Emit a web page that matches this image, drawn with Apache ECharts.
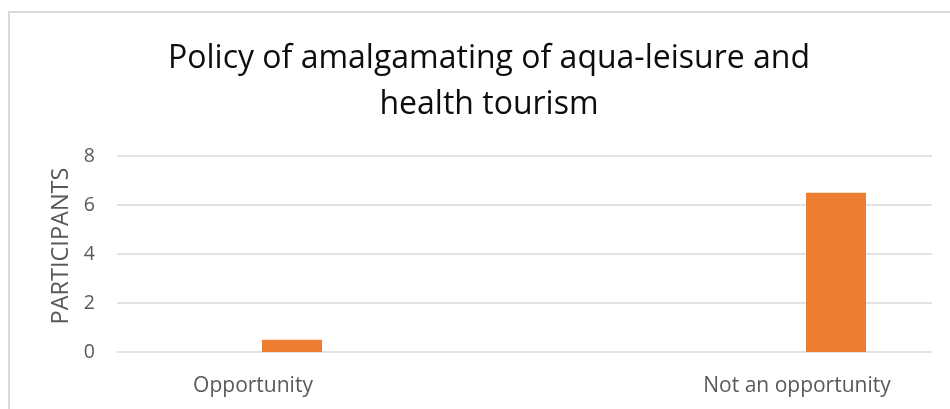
<!DOCTYPE html>
<html>
<head>
<meta charset="utf-8">
<script src="https://cdn.jsdelivr.net/npm/echarts@6/dist/echarts.min.js"></script>
<style>
  html, body { margin: 0; padding: 0; background: #fff; }
  #chart { width: 950px; height: 409px; }
</style>
</head>
<body>
<div id="chart"></div>
<script>
// Survey answers: how many participants chose each response
const categories = ['Opportunity', 'Not an opportunity'];
const participants = [0.5, 6.5];
const yTicks = { min: 0, max: 8, interval: 2 };
const titleText = 'Policy of amalgamating of aqua-leisure and\nhealth tourism';
const yAxisTitle = 'PARTICIPANTS';

const textGrey = '#595959';
const gridGrey = '#d9d9d9';
const barOrange = '#ED7D31';
const font = 'Open Sans';

const chart = echarts.init(document.getElementById('chart'), null, { renderer: 'canvas' });

// Hidden value axis shared by the bar and label grids
const hiddenY = idx => ({
  type: 'value', gridIndex: idx, min: yTicks.min, max: yTicks.max, interval: yTicks.interval,
  show: false
});

chart.setOption({
  backgroundColor: '#fff',
  animation: false,
  title: {
    text: titleText,
    left: 484,
    textAlign: 'center',
    top: 31,
    textStyle: {
      fontFamily: font, fontSize: 32, fontWeight: 'normal', color: '#0d0d0d', lineHeight: 46
    }
  },
  graphic: [{
    type: 'rect',
    shape: { x: 9, y: 12, width: 980, height: 430 },
    style: { fill: 'none', stroke: gridGrey, lineWidth: 2 },
    silent: true
  }],
  grid: [
    // plot frame: gridlines and the value axis
    { left: 117, width: 815, top: 156, height: 196, outerBoundsMode: 'none' },
    // clustered bar positions
    { left: 20, width: 1088, top: 156, height: 196, outerBoundsMode: 'none' },
    // category labels
    { left: -19, width: 1088, top: 156, height: 196, outerBoundsMode: 'none' }
  ],
  xAxis: [
    { type: 'category', gridIndex: 0, data: categories, show: false },
    { type: 'category', gridIndex: 1, data: categories, show: false },
    {
      type: 'category', gridIndex: 2, data: categories,
      axisLine: { show: false }, axisTick: { show: false },
      axisLabel: { color: textGrey, fontFamily: font, fontSize: 21, margin: 24 }
    }
  ],
  yAxis: [
    {
      type: 'value', gridIndex: 0,
      min: yTicks.min, max: yTicks.max, interval: yTicks.interval,
      axisLine: { show: false }, axisTick: { show: false },
      axisLabel: { color: textGrey, fontFamily: font, fontSize: 19.5, margin: 22 },
      splitLine: { lineStyle: { color: gridGrey, width: 1.5 } },
      name: yAxisTitle,
      nameLocation: 'middle',
      nameGap: 44,
      nameTextStyle: { color: textGrey, fontFamily: font, fontSize: 23.5, padding: [0, 0, 0, 16] }
    },
    hiddenY(1),
    hiddenY(2)
  ],
  series: [{
    type: 'bar',
    xAxisIndex: 1,
    yAxisIndex: 1,
    data: participants,
    barWidth: 60,
    itemStyle: { color: barOrange }
  }]
});
</script>
</body>
</html>
